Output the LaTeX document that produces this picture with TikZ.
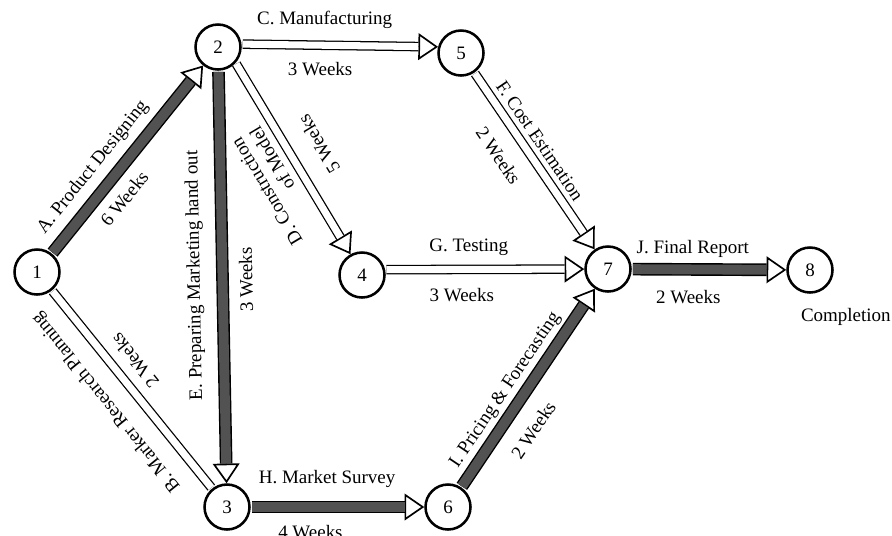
\documentclass[tikz,border=0pt]{standalone}
\usepackage{fontspec}
\setmainfont{Liberation Serif}
\usepackage{tikz}
\usetikzlibrary{arrows.meta, positioning}

\begin{document}
\begin{tikzpicture}[
    x=0.025cm, y=-0.025cm,
    event/.style={circle, draw, line width=1.8pt, minimum size=32pt, inner sep=0pt, fill=white, font=\fontsize{13.5}{15.5}\selectfont},
    lbl/.style={font=\fontsize{13.5}{15.5}\selectfont, inner sep=1pt},
    crit/.style={draw=black, line width=1pt, double=black!68, double distance=7pt, shorten >=14pt, shorten <=0.8pt},
    hollow/.style={draw=black, line width=0.9pt, double=white, double distance=5pt, shorten >=14pt, shorten <=0.8pt},
    arrowhead/.style={-{Triangle[fill=white, length=14pt, width=19pt, line width=1.2pt]}, line width=0.5pt, shorten <=0.8pt}
]
\useasboundingbox (0,0) rectangle (892,535);

% Events
\node[event] (e1) at (37,272) {1};
\node[event] (e2) at (218,47) {2};
\node[event] (e3) at (227,507) {3};
\node[event] (e4) at (362,275) {4};
\node[event] (e5) at (461,53) {5};
\node[event] (e6) at (448,507) {6};
\node[event] (e7) at (608,269) {7};
\node[event] (e8) at (810,270) {8};
\node[lbl, below=9.5pt of e8, xshift=25.5pt] (done) {Completion};

% Arrow heads (under the shafts)
\draw[arrowhead] (e1) -- (e2);
\draw[arrowhead] (e2.7) -- (e5.165);
\draw[arrowhead] (e2.-42) -- (e4.119);
\draw[arrowhead] (e2) -- (e3);
\draw[arrowhead] (e5) -- (e7);
\draw[arrowhead] (e4.13) -- (e7);
\draw[arrowhead] (e3) -- (e6);
\draw[arrowhead] (e6) -- (e7);
\draw[arrowhead] (e7) -- (e8);

% Critical activities
\draw[crit] (e1) -- node[lbl, sloped, pos=0.385, above=8pt] (lA) {A. Product Designing}
                    node[lbl, sloped, pos=0.365, below=9.5pt] (wA) {6 Weeks} (e2);
% drawn upwards so that the labels read bottom to top
\draw[crit, shorten >=0.8pt, shorten <=14pt] (e3) -- node[lbl, sloped, allow upside down, pos=0.505, above=11.8pt] (lE) {E. Preparing Marketing hand out}
                    node[lbl, sloped, allow upside down, pos=0.493, below=10.4pt] (wE) {3 Weeks} (e2);
\draw[crit] (e3) -- node[lbl, pos=0.44, above=12pt] (lH) {H. Market Survey}
                    node[lbl, pos=0.344, below=11.8pt] (wH) {4 Weeks} (e6);
\draw[crit] (e6) -- node[lbl, sloped, pos=0.44, above=5pt] (lI) {I. Pricing \& Forecasting}
                    node[lbl, sloped, pos=0.367, below=13.6pt] (wI) {2 Weeks} (e7);
\draw[crit] (e7) -- node[lbl, pos=0.395, above=7.2pt] (lJ) {J. Final Report}
                    node[lbl, pos=0.366, below=13.2pt] (wJ) {2 Weeks} (e8);

% Other activities (B and D are printed upside down)
\draw[hollow, shorten >=0.8pt] (e3) -- node[lbl, sloped, allow upside down, pos=0.525, above=12pt] (lB) {B. Marker Research Planning}
                    node[lbl, sloped, allow upside down, pos=0.581, below=8pt] (wB) {2 Weeks} (e1);
\draw[hollow] (e2.7) -- node[lbl, pos=0.423, above=10.3pt] (lC) {C. Manufacturing}
                    node[lbl, pos=0.40, below=10.6pt] (wC) {3 Weeks} (e5.165);
\draw[hollow, shorten >=0.8pt, shorten <=14pt] (e4.119) -- node[lbl, sloped, allow upside down, align=right, pos=0.434, above=6.75pt] (lD) {D. Construction\\of Model}
                    node[lbl, sloped, allow upside down, pos=0.495, below=14.7pt] (wD) {5 Weeks} (e2.-42);
\draw[hollow] (e5) -- node[lbl, sloped, pos=0.436, above=5.2pt] (lF) {F. Cost Estimation}
                    node[lbl, sloped, pos=0.385, below=12.8pt] (wF) {2 Weeks} (e7);
\draw[hollow] (e4.13) -- node[lbl, pos=0.42, above=8.2pt] (lG) {G. Testing}
                    node[lbl, pos=0.385, below=12pt] (wG) {3 Weeks} (e7);

\end{tikzpicture}
\end{document}
